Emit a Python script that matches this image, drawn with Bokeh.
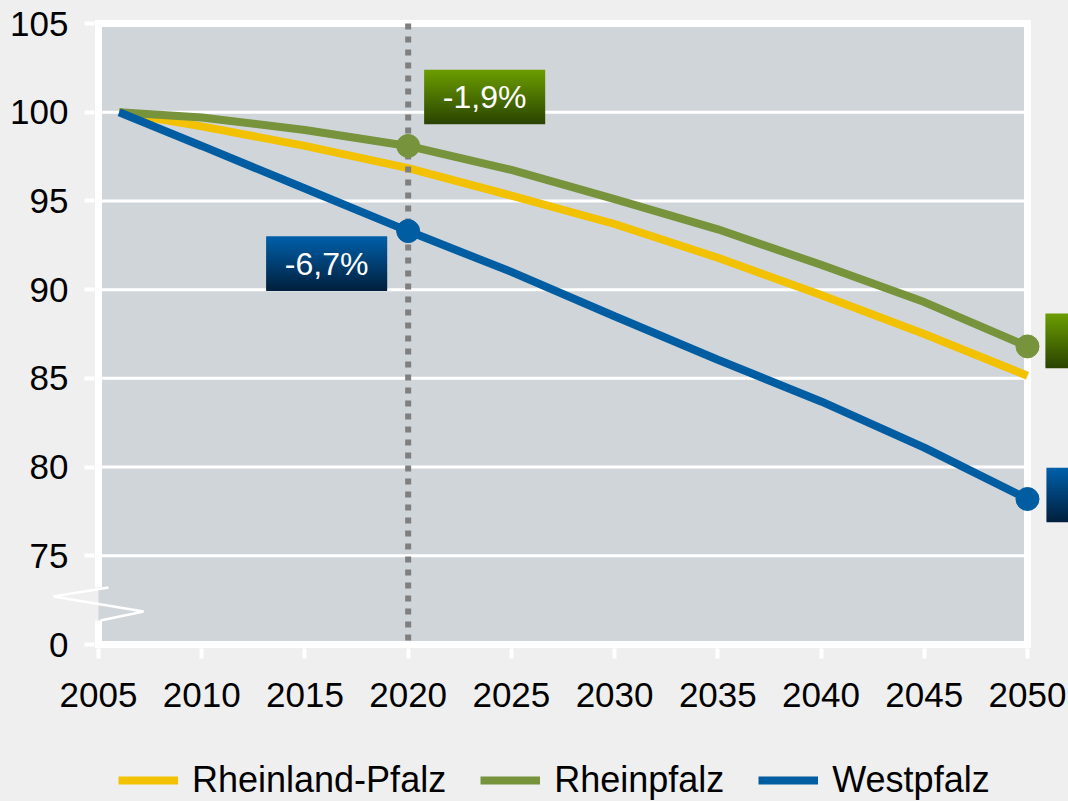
import numpy as np
from bokeh.plotting import figure
from bokeh.models import (FixedTicker, Legend, LegendItem, BoxAnnotation,
                          GlobalInlineStyleSheet)
from bokeh.core.properties import value
from bokeh.embed import file_html
from bokeh.resources import INLINE

# ---------------- data ----------------
years = [2006, 2010, 2015, 2020, 2025, 2030, 2035, 2040, 2045, 2050]
series_names = ["Rheinland-Pfalz", "Rheinpfalz", "Westpfalz"]
rheinland_pfalz = [100, 99.2, 98.1, 96.85, 95.3, 93.7, 91.8, 89.7, 87.5, 85.15]
rheinpfalz = [100, 99.7, 99.0, 98.1, 96.75, 95.1, 93.4, 91.4, 89.3, 86.8]
westpfalz = [100, 98.1, 95.7, 93.3, 91.0, 88.5, 86.05, 83.7, 81.1, 78.2]
marker_years = [2020, 2050]
x_ticks = [2005, 2010, 2015, 2020, 2025, 2030, 2035, 2040, 2045, 2050]
y_ticks = [70, 75, 80, 85, 90, 95, 100, 105]
y_tick_overrides = {70: "0"}
x_limits = [2005, 2050]
y_limits = [70, 105]
highlight_year = 2020

# ---------------- style ----------------
PAGE_BG = "#eeefee"
PLOT_BG = "#d0d5da"
COLORS = ["#f2c100", "#77933c", "#005da2"]
GRAD = {"#77933c": ("#6a9c00", "#2c4600"), "#005da2": ("#005fa8", "#00213f")}
FONT = "Liberation Sans"
W, H = 1068, 801
PX_X = 20.644   # pixels per year
PX_Y = 17.743   # pixels per index point
LEFT_PX = 98    # page x of first x limit
TOP_PX = 23     # page y of upper y limit

x_start = x_limits[0] - LEFT_PX / PX_X
x_end = x_start + W / PX_X
y_end = y_limits[1] + TOP_PX / PX_Y
y_start = y_end - H / PX_Y

p = figure(width=W, height=H, min_border_left=0, min_border_right=0,
           min_border_top=0, min_border_bottom=0,
           x_range=(x_start, x_end), y_range=(y_start, y_end),
           output_backend="svg", toolbar_location=None)
p.background_fill_color = PAGE_BG
p.border_fill_color = PAGE_BG
p.outline_line_color = None
p.stylesheets = [GlobalInlineStyleSheet(
    css="body { margin: 0; background-color: #eeefee; overflow: hidden; }")]
p.xgrid.visible = False
p.ygrid.visible = False

# plot area
p.add_layout(BoxAnnotation(left=x_limits[0], right=x_limits[1],
                           bottom=y_limits[0], top=y_limits[1],
                           fill_color=PLOT_BG, fill_alpha=1, line_color=None,
                           level="underlay"))

# grid lines
inner = [t for t in y_ticks if y_limits[0] < t < y_limits[1]]
p.segment(x0=[x_limits[0]] * len(inner), x1=[x_limits[1]] * len(inner),
          y0=inner, y1=inner, line_color="white", line_width=3)

# border with axis break on the left
brk_top = y_limits[0] + 57 / PX_Y
brk_bot = y_limits[0] + 24 / PX_Y
p.line(x=[x_limits[0], x_limits[0], x_limits[1], x_limits[1], x_limits[0], x_limits[0]],
       y=[brk_top, y_limits[1], y_limits[1], y_limits[0], y_limits[0], brk_bot],
       line_color="white", line_width=7, line_join="miter")
zx = [x_limits[0] + 10 / PX_X, x_limits[0] - 45 / PX_X, x_limits[0] + 45 / PX_X, x_limits[0] + 2 / PX_X]
zy = [brk_top, y_limits[0] + 48 / PX_Y, y_limits[0] + 33 / PX_Y, brk_bot]
p.line(zx, zy, line_color="white", line_width=2.5)

# series lines
renderers = []
for vals, col in zip([rheinland_pfalz, rheinpfalz, westpfalz], COLORS):
    r = p.line(years, vals, line_color=col, line_width=8)
    renderers.append(r)

# dotted vertical line at highlight year
p.segment(x0=[highlight_year], x1=[highlight_year], y0=[y_limits[1]], y1=[y_limits[0]],
          line_color="#7f7f7f", line_width=6, line_dash="6 7")

# markers and labels
def box(cx, cy, w, h, c_top, c_bot, n=27):
    t = np.linspace(0, 1, n)
    a = np.array([int(c_top[i:i + 2], 16) for i in (1, 3, 5)])
    b = np.array([int(c_bot[i:i + 2], 16) for i in (1, 3, 5)])
    cols = ["#%02x%02x%02x" % tuple(np.round(a + (b - a) * tt).astype(int)) for tt in t]
    band = h / n
    ys = [cy + (h / 2 - band * (i + 0.5)) / PX_Y for i in range(n)]
    p.rect(x=[cx] * n, y=ys, width=w, height=band + 0.6, width_units="screen",
           height_units="screen", fill_color=cols, line_color=None)

offsets = {  # (series index, year): (dx px, dy px, show text)
    (1, 2020): (76.5, -49, True),
    (2, 2020): (-81.5, 32.5, True),
    (1, 2050): (78.5, -5.5, False),
    (2, 2050): (79.5, -4, False),
}
for si, vals in [(1, rheinpfalz), (2, westpfalz)]:
    col = COLORS[si]
    mv = [vals[years.index(y)] for y in marker_years]
    for yr, v in zip(marker_years, mv):
        dx, dy, show = offsets[(si, yr)]
        cx = yr + dx / PX_X
        cy = v - dy / PX_Y
        box(cx, cy, 121, 54, *GRAD[col])
        if show:
            pct = (v / vals[0] - 1) * 100
            txt = ("%.1f%%" % pct).replace(".", ",")
            p.text(x=[cx], y=[cy], text=[txt], text_align="center",
                   text_baseline="middle", text_color="white",
                   text_font=value(FONT), text_font_size="32px")
    p.scatter(marker_years, mv, size=23, fill_color=col, line_color=col)

# axes (fixed inside the full-size frame)
p.xaxis.fixed_location = y_limits[0] - 4 / PX_Y
p.yaxis.fixed_location = x_limits[0] - 4 / PX_X
for ax in (p.xaxis, p.yaxis):
    ax.axis_line_color = None
    ax.major_tick_line_color = "white"
    ax.major_tick_line_width = 4
    ax.major_tick_out = 10
    ax.major_tick_in = 0
    ax.minor_tick_line_color = None
    ax.major_label_text_font = FONT
    ax.major_label_text_font_size = "35px"
    ax.major_label_text_color = "black"
p.xaxis.ticker = FixedTicker(ticks=x_ticks)
p.yaxis.ticker = FixedTicker(ticks=y_ticks)
p.yaxis.major_label_overrides = y_tick_overrides
p.xaxis.major_label_standoff = 24
p.yaxis.major_label_standoff = 16

legend = Legend(items=[LegendItem(label=n, renderers=[r]) for n, r in zip(series_names, renderers)],
                orientation="horizontal", location=(118, 0),
                glyph_width=60, glyph_height=20, label_standoff=14, spacing=34,
                padding=0, margin=0, background_fill_alpha=0, border_line_color=None,
                label_text_font=FONT, label_text_font_size="36px",
                label_text_color="black")
p.add_layout(legend, "center")

open("out.html", "w").write(file_html(p, INLINE))
